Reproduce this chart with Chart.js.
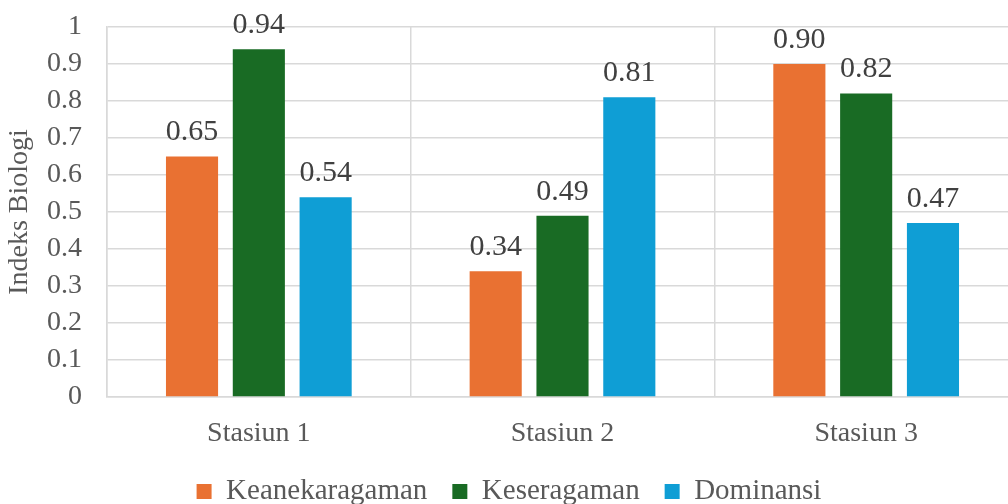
<!DOCTYPE html>
<html>
<head>
<meta charset="utf-8">
<script src="https://cdn.jsdelivr.net/npm/chart.js@4/dist/chart.umd.min.js"></script>
<style>
  html, body { margin: 0; padding: 0; background: #fff; overflow: hidden; }
  #wrap { width: 1008px; height: 504px; overflow: hidden; }
</style>
</head>
<body>
<div id="wrap"><canvas id="chart" width="1018" height="504"></canvas></div>
<script>
// data
const stations = ["Stasiun 1", "Stasiun 2", "Stasiun 3"];
const keanekaragaman = [0.65, 0.34, 0.90];
const keseragaman = [0.94, 0.49, 0.82];
const dominansi = [0.54, 0.81, 0.47];
const yTicks = [0, 0.1, 0.2, 0.3, 0.4, 0.5, 0.6, 0.7, 0.8, 0.9, 1];

const FONT = "'Liberation Serif', 'Times New Roman', serif";

// draws the value above every bar
const barValues = {
    id: "barValues",
    afterDatasetsDraw(chart) {
        const ctx = chart.ctx;
        ctx.save();
        ctx.font = "30px " + FONT;
        ctx.fillStyle = "#404040";
        ctx.textAlign = "center";
        ctx.textBaseline = "bottom";
        chart.data.datasets.forEach((ds, i) => {
            chart.getDatasetMeta(i).data.forEach((bar, j) => {
                ctx.fillText(ds.data[j].toFixed(2), bar.x, bar.y - 9);
            });
        });
        ctx.restore();
    },
};

new Chart(document.getElementById("chart"), {
    type: "bar",
    data: {
        labels: stations,
        datasets: [
            { label: "Keanekaragaman", data: keanekaragaman, backgroundColor: "#E97132" },
            { label: "Keseragaman", data: keseragaman, backgroundColor: "#196B24" },
            { label: "Dominansi", data: dominansi, backgroundColor: "#0F9ED5" },
        ],
    },
    options: {
        responsive: false,
        animation: false,
        categoryPercentage: 0.66,
        barPercentage: 0.78,
        layout: { padding: { top: 27, left: 0, right: 0, bottom: -12 } },
        plugins: {
            tooltip: { enabled: false },
            legend: {
                position: "bottom",
                labels: {
                    font: { family: FONT, size: 29 },
                    color: "#595959",
                    boxWidth: 15,
                    boxHeight: 15,
                    padding: 25,
                },
            },
        },
        scales: {
            x: {
                afterFit(axis) {
                    axis.height = 55;
                },
                grid: { color: "#d9d9d9", lineWidth: 1.5, offset: true, drawTicks: false },
                border: { color: "#d9d9d9", width: 1.5 },
                ticks: {
                    font: { family: FONT, size: 28 },
                    color: "#595959",
                    padding: 20,
                },
            },
            y: {
                min: 0,
                max: 1,
                afterBuildTicks(axis) {
                    axis.ticks = yTicks.map((v) => ({ value: v }));
                },
                afterFit(axis) {
                    axis.width = 107;
                    axis.paddingTop = 0;
                    axis.paddingBottom = 0;
                },
                grid: { color: "#d9d9d9", lineWidth: 1.5, drawTicks: false },
                border: { color: "#d9d9d9", width: 1.5 },
                ticks: {
                    font: { family: FONT, size: 28 },
                    color: "#595959",
                    padding: 25,
                    autoSkip: false,
                    callback: (v) => String(v),
                },
                title: {
                    display: true,
                    text: "Indeks Biologi",
                    font: { family: FONT, size: 28 },
                    color: "#595959",
                    padding: 3,
                },
            },
        },
    },
    plugins: [barValues],
});
</script>
</body>
</html>
